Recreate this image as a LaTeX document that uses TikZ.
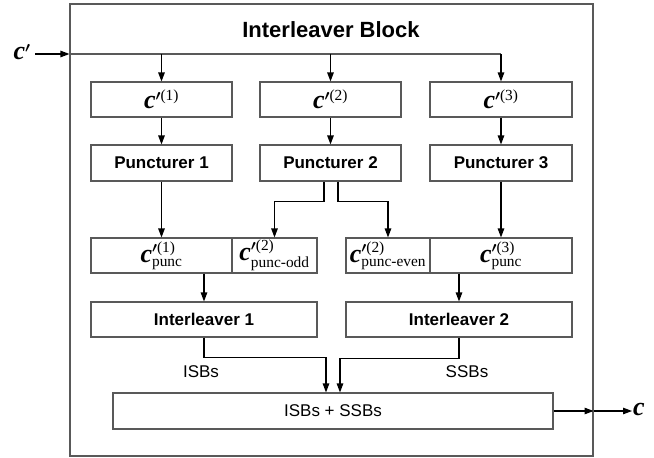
\documentclass[tikz,border=0pt]{standalone}
\usepackage{amsmath,bm}
\usepackage{fontspec}
\newfontfamily\arialf{Liberation Sans}
\newfontfamily\timesf{Liberation Serif}
\usetikzlibrary{arrows.meta,calc}

% bold italic code-word letter and its serif indices
\newcommand{\cb}{\text{\fontsize{26}{26}\selectfont\timesf\bfseries\itshape c}}
\newcommand{\ix}[1]{\text{\timesf #1}}

\tikzset{
  ln/.style={draw=gray!70!black, line width=1.1pt},
  arr/.style={draw=black, line width=1.1pt, -{Triangle[length=9pt,width=6.5pt]}},
  blockbox/.style={draw=gray!70!black, line width=1.1pt, minimum height=35pt, inner sep=0pt, anchor=center},
  boldlbl/.style={font=\arialf\bfseries\fontsize{17}{17}\selectfont},
  plainlbl/.style={font=\arialf\fontsize{17}{17}\selectfont},
  mathlbl/.style={font=\fontsize{22}{22}\selectfont},
}

\begin{document}
\begin{tikzpicture}[x=1pt,y=-1pt]
\useasboundingbox (0,0) rectangle (654,458);

% outer interleaver block
\node[blockbox, minimum width=523pt, minimum height=452pt] (blk) at (331.5,230) {};
\node[font=\arialf\bfseries\fontsize{22}{22}\selectfont] (title) at (331,30) {Interleaver Block};

% first row: split sequences
\node[blockbox, minimum width=141pt, mathlbl] (c1) at (161.5,99.5) {$\cb^{\bm{\prime}\ix{(1)}}$};
\node[blockbox, minimum width=141pt, mathlbl] (c2) at (330.5,99.5) {$\cb^{\bm{\prime}\ix{(2)}}$};
\node[blockbox, minimum width=142pt, mathlbl] (c3) at (501,99.5) {$\cb^{\bm{\prime}\ix{(3)}}$};

% second row: puncturers
\node[blockbox, minimum width=141pt, minimum height=36pt, boldlbl] (p1) at (161.5,163) {Puncturer 1};
\node[blockbox, minimum width=141pt, minimum height=36pt, boldlbl] (p2) at (330.5,163) {Puncturer 2};
\node[blockbox, minimum width=142pt, minimum height=36pt, boldlbl] (p3) at (501,163) {Puncturer 3};

% third row: punctured sequences
\node[blockbox, minimum width=141pt, mathlbl] (q1) at (161.5,255.5) {$\cb^{\bm{\prime}\ix{(1)}}_{\ix{punc}}$};
\node[blockbox, minimum width=85pt, mathlbl] (q2) at (274.5,255.5) {$\cb^{\bm{\prime}\ix{(2)}}_{\ix{punc-odd}}$};
\node[blockbox, minimum width=84pt, mathlbl] (q3) at (388,255.5) {$\cb^{\bm{\prime}\ix{(2)}}_{\ix{punc-even}}$};
\node[blockbox, minimum width=142pt, mathlbl] (q4) at (501,255.5) {$\cb^{\bm{\prime}\ix{(3)}}_{\ix{punc}}$};

% interleavers
\node[blockbox, minimum width=226pt, boldlbl] (i1) at (204,319.5) {Interleaver 1};
\node[blockbox, minimum width=226pt, boldlbl] (i2) at (459,319.5) {Interleaver 2};

% combiner
\node[blockbox, minimum width=440pt, minimum height=36pt, plainlbl] (m) at (333,411) {ISBs + SSBs};
\node[plainlbl] (isb) at (201,372) {ISBs};
\node[plainlbl] (ssb) at (467,372) {SSBs};

% input and output labels
\node[mathlbl, inner sep=1pt] (cin) at (22,52) {$\cb^{\bm{\prime}}$};
\node[mathlbl, inner sep=1pt] (cout) at (639,409) {$\cb$};
\coordinate (cstart) at (35,54);

% input distribution
\draw[arr] (cstart) -- (cstart -| blk.west);
\draw[ln] (cstart -| blk.west) -- (cstart -| c3.north);
\draw[arr] (cstart -| c1.north) -- (c1.north);
\draw[arr] (cstart -| c2.north) -- (c2.north);
\draw[arr] (cstart -| c3.north) -- (c3.north);

% into the puncturers
\draw[arr] (c1.south) -- (p1.north);
\draw[arr] (c2.south) -- (p2.north);
\draw[arr] (c3.south) -- (p3.north);

% puncturer outputs
\draw[arr] (p1.south) -- (q1.north);
\draw[arr] ([xshift=-6.5pt]p2.south) -- ++(0,20) -| (q2.north);
\draw[arr] ([xshift=7.5pt]p2.south) -- ++(0,20) -| (q3.north);
\draw[arr] (p3.south) -- (q4.north);

% into the interleavers
\draw[arr] (i1.north |- q1.south) -- (i1.north);
\draw[arr] (i2.north |- q3.south) -- (i2.north);

% interleaver outputs to the combiner
\draw[arr] (i1.south) -- ++(0,20) -| ([xshift=-7pt]m.north);
\draw[arr] (i2.south) -- ++(0,21) -| ([xshift=7pt]m.north);

% output
\draw[arr] (m.east) -- (m.east -| blk.east);
\draw[arr] (m.east -| blk.east) -- (cout.west |- m.east);
\end{tikzpicture}
\end{document}
